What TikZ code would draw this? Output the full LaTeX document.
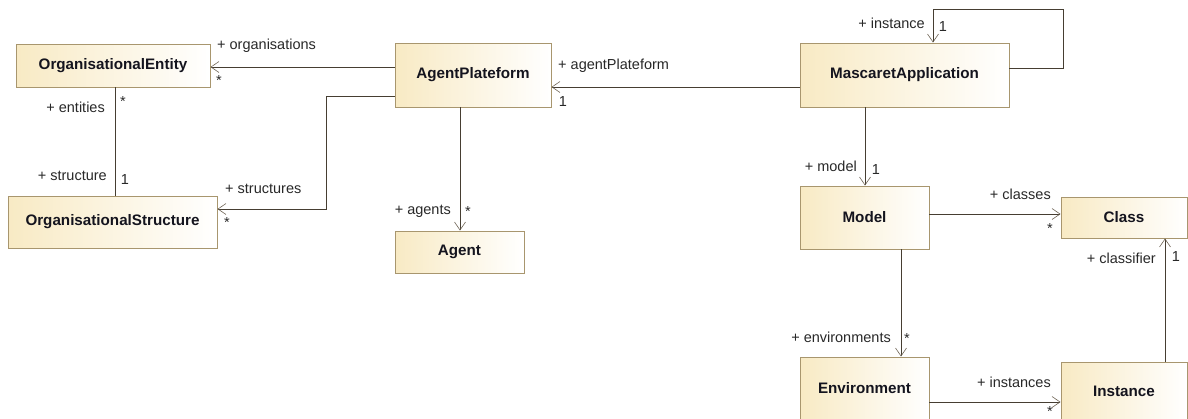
\documentclass[tikz,border=0pt]{standalone}
\usepackage{fontspec}
\setmainfont{Liberation Sans}
\usetikzlibrary{arrows.meta}
\definecolor{boxfill}{RGB}{248,234,196}
\definecolor{boxedge}{RGB}{168,150,110}
\definecolor{linec}{RGB}{70,62,50}
\definecolor{tipc}{RGB}{110,100,85}
\definecolor{txt}{RGB}{40,40,40}
\definecolor{nametxt}{RGB}{20,20,30}
\tikzset{
  cls/.style={draw=boxedge, line width=0.9pt, left color=boxfill, right color=white,
    inner sep=0pt, font=\fontsize{15.2}{18}\selectfont\bfseries, text=nametxt},
  assoc/.style={draw=linec, line width=0.9pt,
    -{Straight Barb[length=8pt,width=11pt,line width=0.6pt,color=tipc]}},
  plain/.style={draw=linec, line width=0.9pt},
  lbl/.style={font=\fontsize{14.5}{17}\selectfont, text=txt, inner sep=0pt},
}
\begin{document}
\begin{tikzpicture}[x=1pt,y=-1pt]
\useasboundingbox (0,0) rectangle (1188,418);
\clip (0,0) rectangle (1188,418);
% classes
\node[cls, minimum width=194pt, minimum height=43pt] (OE) at (113,65.5) {OrganisationalEntity};
\node[cls, minimum width=209pt, minimum height=52pt] (OS) at (112.5,222) {OrganisationalStructure};
\node[cls, minimum width=156pt, minimum height=64pt] (AP) at (473,75) {AgentPlateform};
\node[cls, minimum width=129pt, minimum height=42pt] (AG) at (459.5,252) {Agent};
\node[cls, minimum width=209pt, minimum height=64pt] (MA) at (904.5,75) {MascaretApplication};
\node[cls, minimum width=129pt, minimum height=63pt] (MO) at (864.5,217.5) {Model};
\node[cls, minimum width=126pt, minimum height=41pt] (CL) at (1124,217.5) {Class};
\node[cls, minimum width=129pt, minimum height=63pt] (EN) at (864.5,388.5) {Environment};
\node[cls, minimum width=126pt, minimum height=58pt] (IN) at (1124,391) {Instance};
% helper coordinates
\coordinate (ap1) at (326,96);
\coordinate (ap2) at (326,209);
\coordinate (loopA) at (1063,9);
\coordinate (loopB) at (933,9);
% connectors
\draw[assoc] (AP.west |- 0,67) -- (OE.east |- 0,67);
\draw[assoc] (AP.west |- ap1) -- (ap1) -- (ap2) -- (OS.east |- ap2);
\draw[plain] (OE.south -| 115,0) -- (OS.north -| 115,0);
\draw[assoc] (MA.west |- 0,87) -- (AP.east |- 0,87);
\draw[assoc] (AP.south -| 460,0) -- (AG.north -| 460,0);
\draw[assoc] (MA.east |- 0,68) -| (loopA) -- (loopB) -- (MA.north -| loopB);
\draw[assoc] (MA.south -| 865,0) -- (MO.north -| 865,0);
\draw[assoc] (MO.east |- 0,214) -- (CL.west |- 0,214);
\draw[assoc] (MO.south -| 901,0) -- (EN.north -| 901,0);
\draw[assoc] (EN.east |- 0,402) -- (IN.west |- 0,402);
\draw[assoc] (IN.north -| 1165,0) -- (CL.south -| 1165,0);
% labels
\node[lbl, anchor=west] (l1) at (217,46) {+ organisations};
\node[lbl] (m1) at (219,81) {*};
\node[lbl, anchor=east] (l2) at (105,107) {+ entities};
\node[lbl] (m2) at (123,102) {*};
\node[lbl, anchor=east] (l3) at (107,176) {+ structure};
\node[lbl] (m3) at (125,180) {1};
\node[lbl, anchor=west] (l4) at (225,189) {+ structures};
\node[lbl] (m4) at (227,223) {*};
\node[lbl, anchor=west] (l5) at (558,66) {+ agentPlateform};
\node[lbl] (m5) at (563,102) {1};
\node[lbl, anchor=east] (l6) at (451,211) {+ agents};
\node[lbl] (m6) at (468,212) {*};
\node[lbl, anchor=east] (l7) at (925,23) {+ instance};
\node[lbl] (m7) at (943,27) {1};
\node[lbl, anchor=east] (l8) at (857,166) {+ model};
\node[lbl] (m8) at (876,170) {1};
\node[lbl, anchor=east] (l9) at (1051,194) {+ classes};
\node[lbl] (m9) at (1050,229) {*};
\node[lbl, anchor=east] (l10) at (1156,258) {+ classifier};
\node[lbl] (m10) at (1176,257) {1};
\node[lbl, anchor=east] (l11) at (891,337) {+ environments};
\node[lbl] (m11) at (907,339) {*};
\node[lbl, anchor=east] (l12) at (1051,382) {+ instances};
\node[lbl] (m12) at (1050,412) {*};
\end{tikzpicture}
\end{document}
